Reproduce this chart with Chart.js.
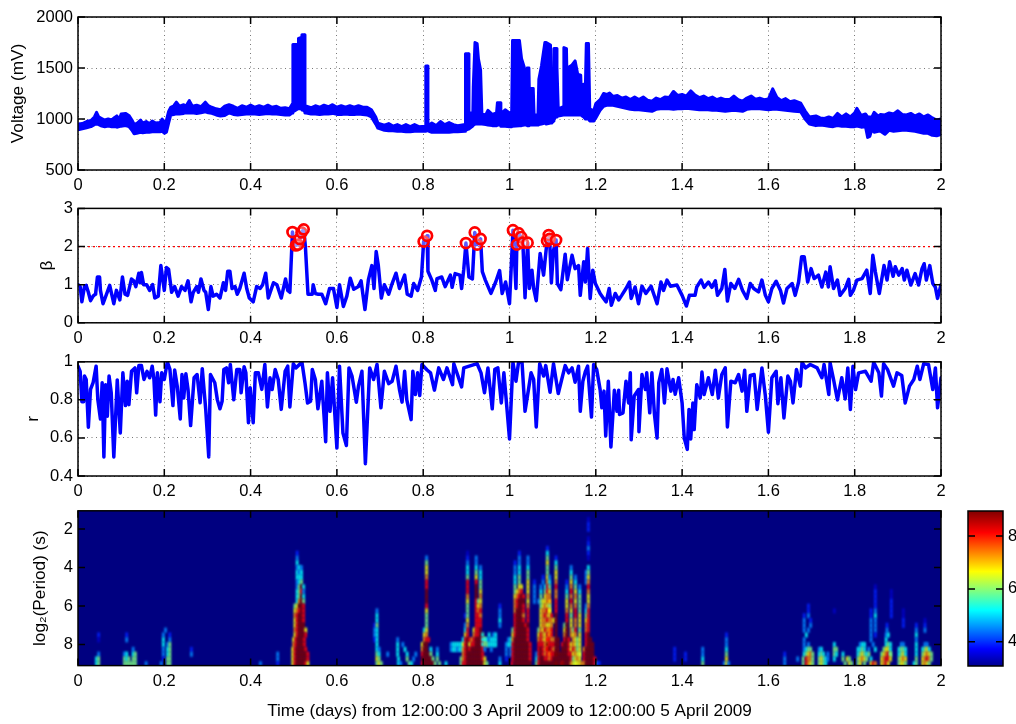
<!DOCTYPE html>
<html lang="en">
<head>
  <meta charset="UTF-8">
  <title>Voltage, beta, r and wavelet power</title>
  <script src="https://cdn.jsdelivr.net/npm/chart.js@4"></script>
  <style>
    html, body { margin: 0; padding: 0; background: #fff; }
    body { position: relative; width: 1016px; height: 724px; overflow: hidden; }
    canvas { position: absolute; left: 0; }
  </style>
</head>
<body>
  <canvas id="voltage"></canvas>
  <canvas id="beta"></canvas>
  <canvas id="r"></canvas>
  <canvas id="wavelet"></canvas>
  <canvas id="colorbar"></canvas>

  <script>
    const timeTicks = [0, 0.2, 0.4, 0.6, 0.8, 1, 1.2, 1.4, 1.6, 1.8, 2];
    const voltageTicks = [500, 1000, 1500, 2000];
    const betaTicks = [0, 1, 2, 3];
    const rTicks = [0.4, 0.6, 0.8, 1];
    const periodTicks = [2, 4, 6, 8];
    const powerTicks = [4, 6, 8];
    const betaThreshold = 2;

    // [time, upper edge, lower edge] of the voltage trace
    const voltageBand = [
      [0,950,895],[.01,955,905],[.02,975,915],[.03,985,925],[.038,1020,945],[.043,1065,950],[.048,1020,945],[.055,1005,930],[.062,990,925],
      [.07,1000,930],[.078,990,925],[.085,1015,925],[.09,1030,920],[.096,1000,925],[.1,1050,930],[.11,1055,935],[.118,1035,925],[.125,990,890],
      [.13,950,855],[.136,955,860],[.145,990,870],[.15,960,865],[.158,975,870],[.165,955,870],[.172,980,875],[.18,960,875],[.19,965,875],
      [.195,1000,880],[.2,960,860],[.205,990,870],[.21,1075,960],[.215,1115,1040],[.222,1130,1045],[.228,1165,1050],[.235,1125,1050],[.245,1140,1055],
      [.25,1125,1060],[.258,1180,1060],[.265,1125,1060],[.275,1135,1055],[.285,1120,1060],[.295,1165,1070],[.302,1130,1060],[.31,1115,1055],[.32,1100,1040],[.33,1090,1030],[.34,1125,1035],
      [.35,1140,1060],[.36,1125,1045],[.37,1105,1040],[.38,1130,1045],[.39,1115,1050],[.4,1135,1050],[.41,1115,1050],[.42,1130,1045],[.43,1115,1050],[.44,1135,1055],[.45,1115,1050],[.46,1125,1050],[.47,1105,1045],[.48,1110,1040],
      [.49,1100,1040],[.497,1150,1060],[.498,1730,1070],[.51,1730,1100],[.511,1790,1100],[.518,1800,1100],[.519,1825,1090],[.525,1825,1080],
      [.526,1130,1060],[.54,1110,1050],[.55,1130,1050],[.56,1115,1045],[.57,1135,1050],[.58,1120,1050],[.59,1140,1055],[.6,1115,1045],[.61,1130,1045],[.62,1115,1050],[.63,1130,1045],[.64,1115,1045],[.65,1130,1050],[.66,1115,1045],[.67,1115,1040],
      [.68,1090,1020],[.69,1020,950],[.695,960,910],[.71,940,890],[.72,955,885],[.73,930,885],[.74,945,880],[.75,925,880],[.76,945,875],[.77,925,875],[.78,945,880],[.79,925,880],
      [.805,930,880],[.806,1520,900],[.81,1520,900],[.811,935,885],[.82,960,870],[.83,935,870],[.84,975,870],[.85,945,870],[.86,965,870],[.87,945,875],[.88,935,875],
      [.897,945,880],[.898,1640,890],[.905,1640,900],[.906,1060,900],[.915,1060,930],[.916,1310,940],[.92,1750,950],[.925,1740,950],
      [.928,1590,950],[.933,1480,950],[.936,1050,950],[.945,1040,945],[.95,1085,940],[.96,1045,935],[.97,1060,935],[.972,1160,940],[.978,1160,940],
      [.98,1050,930],[.99,1090,930],[1,1060,925],[1.005,1050,925],[1.007,1770,930],[1.023,1770,935],[1.028,1590,935],[1.034,1510,940],[1.036,1040,940],
      [1.04,1040,940],[1.041,1500,935],[1.045,1500,935],[1.047,1040,940],[1.049,1300,940],[1.055,1300,940],[1.057,1040,940],[1.066,1040,940],
      [1.068,1390,945],[1.074,1520,950],[1.082,1750,960],[1.085,1750,950],[1.095,1725,960],[1.098,1100,960],[1.102,1100,980],[1.103,1690,1000],
      [1.108,1690,1020],[1.11,1510,1030],[1.113,1100,1030],[1.125,1120,1040],[1.126,1700,1040],[1.132,1690,1040],[1.134,1200,1040],[1.138,1510,1040],
      [1.145,1530,1040],[1.152,1570,1040],[1.158,1440,1040],[1.165,1430,1040],[1.168,1100,1030],[1.172,1340,1020],[1.176,1340,1000],[1.178,1740,1000],
      [1.183,1740,1000],[1.186,1100,980],[1.195,1080,980],[1.2,1150,1010],[1.21,1190,1085],[1.218,1250,1125],[1.225,1240,1135],[1.232,1255,1135],[1.24,1220,1135],[1.25,1230,1125],[1.26,1205,1115],[1.27,1215,1105],
      [1.28,1190,1095],[1.29,1215,1090],[1.3,1190,1090],[1.31,1215,1085],[1.32,1185,1080],[1.33,1175,1075],[1.34,1205,1095],[1.35,1190,1100],[1.36,1215,1100],[1.37,1210,1100],[1.38,1270,1095],[1.39,1230,1100],[1.4,1240,1100],
      [1.41,1225,1105],[1.42,1275,1100],[1.43,1235,1095],[1.44,1210,1090],[1.45,1225,1090],[1.46,1200,1090],[1.47,1215,1085],[1.48,1190,1085],[1.49,1205,1080],[1.5,1190,1075],[1.51,1190,1080],[1.52,1225,1085],[1.53,1190,1080],[1.54,1175,1075],[1.55,1205,1095],[1.56,1225,1100],
      [1.57,1195,1100],[1.58,1205,1100],[1.59,1190,1095],[1.6,1195,1090],[1.61,1295,1095],[1.62,1210,1095],[1.63,1180,1090],[1.64,1200,1085],[1.65,1170,1080],[1.66,1180,1075],[1.675,1155,1070],[1.685,1080,1000],
      [1.695,1020,950],[1.71,1030,935],[1.72,1010,940],[1.73,1005,935],[1.74,1020,930],[1.75,1005,925],[1.76,1055,935],[1.77,1020,930],[1.78,1050,930],[1.79,1020,925],[1.8,1060,925],[1.805,1105,930],
      [1.815,1035,920],[1.825,1050,925],[1.83,1020,820],[1.835,1020,830],[1.84,1020,900],[1.845,1065,870],[1.855,1025,880],[1.86,1045,880],[1.87,1040,850],[1.88,1060,890],[1.89,1050,880],[1.9,1080,885],[1.91,1045,890],
      [1.92,1040,890],[1.93,1055,885],[1.94,1030,880],[1.95,1050,870],[1.96,1020,860],[1.97,1040,860],[1.98,1010,840],[1.99,990,835],[2,1000,850]
    ];

    const betaSeries = [
      [0,1],[.005,.95],[.009,.55],[.015,.95],[.019,.98],[.024,.8],[.029,.58],[.035,.7],[.04,.75],[.041,.78],[.045,1.2],[.05,1.2],
      [.052,.85],[.058,.5],[.0735,.98],[.083,.5],[.089,.85],[.097,.6],[.103,1.2],[.109,.75],[.115,.72],[.124,1.15],[.129,1.1],[.134,.95],
      [.141,1.3],[.144,1.05],[.147,1.32],[.152,1],[.159,1],[.166,.85],[.173,1],[.178,.65],[.186,.7],[.192,1.5],[.2,.85],[.205,1.45],
      [.21,1.4],[.217,.8],[.224,.95],[.232,.7],[.24,.95],[.248,.85],[.255,1.1],[.262,.55],[.267,.8],[.275,.95],[.279,.8],[.285,1.15],
      [.292,.85],[.296,.8],[.302,.35],[.308,.95],[.313,.7],[.321,.75],[.329,.65],[.337,1.05],[.342,.85],[.347,1.35],[.352,1.35],[.357,.9],
      [.364,.95],[.369,.75],[.375,.9],[.385,1.3],[.391,.9],[.397,.65],[.406,.55],[.414,.95],[.422,.9],[.428,1],[.435,1.3],[.441,.65],
      [.453,1.05],[.461,1],[.471,.65],[.481,1.15],[.486,.85],[.491,.8],[.497,2.38],[.5,2.1],[.505,2.03],[.51,2.05],[.514,2.2],[.518,2.37],
      [.523,2.45],[.527,2],[.533,.75],[.543,.75],[.545,1],[.55,.77],[.557,.75],[.565,.75],[.574,.5],[.583,.9],[.592,.9],[.6,.4],
      [.606,1],[.615,.43],[.623,.7],[.631,1.17],[.639,.88],[.65,.95],[.656,1.1],[.665,.35],[.673,1.13],[.681,1.5],[.686,.9],[.691,1.87],
      [.696,1.5],[.703,.65],[.71,1],[.72,.75],[.728,1.03],[.737,1.3],[.745,.9],[.757,1.25],[.763,.75],[.772,.7],[.778,1.03],[.787,.85],
      [.796,1.2],[.801,2.13],[.809,2.28],[.811,1.35],[.82,1.12],[.828,.85],[.832,1.16],[.843,1.2],[.851,.95],[.863,1.25],[.867,.93],[.874,1.29],
      [.885,1.25],[.889,.9],[.894,1.4],[.899,2.09],[.906,1.2],[.914,1.15],[.9195,2.37],[.925,2.05],[.933,2.2],[.937,1.34],[.944,1.12],[.957,.77],
      [.968,1.07],[.977,1.37],[.983,.77],[.991,1.07],[1,.5],[1.008,2.43],[1.015,.9],[1.017,2.05],[1.021,2.35],[1.027,2.25],[1.031,2.1],[1.036,.66],
      [1.042,2.1],[1.046,.9],[1.052,1.38],[1.056,.9],[1.062,.58],[1.071,1.82],[1.079,1.25],[1.087,2.15],[1.091,2.3],[1.093,2.2],[1.097,1.05],[1.102,1.9],
      [1.108,2.17],[1.111,1.03],[1.119,.87],[1.129,1.8],[1.134,1.13],[1.145,1.77],[1.152,1.42],[1.16,1.5],[1.164,.72],[1.172,1.6],[1.176,1.07],[1.181,1.95],
      [1.187,.64],[1.193,1.38],[1.199,1.03],[1.21,.77],[1.218,.64],[1.224,.55],[1.231,.9],[1.236,.46],[1.245,.77],[1.253,.6],[1.26,.72],[1.27,.9],
      [1.278,1.07],[1.282,.64],[1.291,.94],[1.299,.5],[1.307,.96],[1.316,.77],[1.328,.96],[1.342,.5],[1.351,1.07],[1.357,.85],[1.365,1.12],[1.373,.96],
      [1.388,.99],[1.4,.72],[1.41,.44],[1.417,.72],[1.43,.72],[1.434,.94],[1.444,1.12],[1.451,.93],[1.461,1.07],[1.469,.93],[1.477,1.1],[1.482,.72],
      [1.492,.9],[1.499,1.4],[1.505,.57],[1.513,1.03],[1.522,.9],[1.531,1.14],[1.54,.85],[1.55,.64],[1.558,1.03],[1.566,.9],[1.577,.81],[1.585,1.12],
      [1.593,.72],[1.6,.55],[1.608,.9],[1.618,1.09],[1.628,.85],[1.635,.52],[1.643,.9],[1.655,1.03],[1.662,.72],[1.67,1.07],[1.677,1.73],[1.683,1.73],
      [1.691,1.07],[1.699,1.42],[1.706,1.16],[1.716,1.25],[1.724,.94],[1.733,1.33],[1.739,.94],[1.743,1.47],[1.751,.9],[1.76,1.12],[1.766,.72],[1.778,.9],
      [1.786,1.14],[1.79,.72],[1.797,.85],[1.805,1.12],[1.817,1.16],[1.828,1.38],[1.836,.77],[1.842,1.77],[1.848,1.33],[1.857,.77],[1.868,1.5],[1.875,1.12],
      [1.881,1.6],[1.889,1.22],[1.894,1.47],[1.902,1.25],[1.91,1.42],[1.915,1.12],[1.921,1.38],[1.93,.99],[1.94,1.29],[1.948,.99],[1.956,1.42],[1.961,1.55],
      [1.966,1.12],[1.974,1.5],[1.981,1.03],[1.987,.93],[1.992,.64],[2,1]
    ];

    // samples of beta above the threshold, ringed in red
    const betaPeaks = [
      [.497,2.38],[.505,2.03],[.51,2.05],[.514,2.2],[.518,2.37],[.523,2.45],[.801,2.13],[.809,2.28],[.899,2.09],[.9195,2.37],[.925,2.05],[.933,2.2],
      [1.008,2.43],[1.017,2.05],[1.021,2.35],[1.027,2.25],[1.031,2.1],[1.042,2.1],[1.087,2.15],[1.091,2.3],[1.093,2.2],[1.108,2.17]
    ];

    const rSeries = [
      [0,.977],[.005,.95],[.009,.79],[.013,.79],[.015,.925],[.019,.907],[.024,.656],[.029,.855],[.035,.89],[.042,.977],[.046,.8],[.052,.7],
      [.056,.89],[.06,.5],[.064,.88],[.068,.714],[.072,.925],[.077,.837],[.083,.5],[.091,.905],[.098,.626],[.104,.942],[.11,.77],[.114,.898],
      [.118,.775],[.124,.95],[.132,.968],[.136,.837],[.141,.98],[.147,.98],[.153,.907],[.16,.95],[.166,.916],[.172,.977],[.176,.907],[.18,.72],
      [.184,.942],[.19,.79],[.194,.942],[.2,.907],[.207,1],[.213,.96],[.22,.77],[.224,.957],[.23,.872],[.237,.7],[.241,.933],[.245,.81],
      [.25,.937],[.255,.854],[.261,.665],[.269,.916],[.276,.933],[.283,.785],[.288,.964],[.296,.75],[.303,.5],[.307,.933],[.317,.89],[.323,.8],
      [.329,.753],[.334,.793],[.338,.96],[.344,.968],[.349,.89],[.353,.986],[.361,.8],[.368,.96],[.375,.96],[.378,.837],[.385,.974],[.389,.942],
      [.395,.68],[.399,.864],[.406,.68],[.411,.942],[.418,.942],[.426,.855],[.433,.986],[.439,.763],[.445,.916],[.45,.854],[.457,.96],[.464,.907],
      [.471,.75],[.48,.95],[.486,.977],[.491,.763],[.499,.99],[.505,.968],[.519,.998],[.526,.89],[.532,.784],[.539,.793],[.543,.96],[.55,.907],
      [.556,.753],[.565,.898],[.574,.58],[.578,.942],[.584,.74],[.59,.916],[.6,.547],[.606,.977],[.614,.626],[.622,.56],[.628,.968],[.635,.925],
      [.645,.788],[.65,.872],[.658,.95],[.666,.465],[.676,.968],[.685,.907],[.693,.986],[.702,.758],[.71,.95],[.72,.885],[.728,.898],[.737,.977],
      [.745,.854],[.751,.788],[.757,.95],[.762,.8],[.772,.696],[.776,.95],[.782,.828],[.787,.942],[.792,.823],[.797,.986],[.809,.957],[.817,.942],
      [.826,.851],[.836,.968],[.847,.907],[.855,.968],[.868,.88],[.871,.99],[.889,.868],[.894,.968],[.925,.99],[.934,.942],[.942,.837],[.95,.968],
      [.96,.753],[.966,.96],[.973,.968],[.981,.784],[.987,.942],[.992,.81],[1,.595],[1.008,.998],[1.015,.898],[1.021,.998],[1.029,.998],[1.036,.74],
      [1.044,.854],[1.05,.942],[1.056,.907],[1.062,.658],[1.07,.99],[1.079,.925],[1.084,.98],[1.094,.84],[1.102,.99],[1.113,.833],[1.12,.898],[1.129,.98],
      [1.137,.942],[1.145,.968],[1.152,.893],[1.16,.977],[1.164,.74],[1.17,.898],[1.176,.95],[1.181,.977],[1.19,.71],[1.195,.986],[1.202,.96],[1.21,.854],
      [1.214,.758],[1.219,.846],[1.223,.61],[1.229,.898],[1.235,.553],[1.243,.85],[1.249,.74],[1.253,.85],[1.255,.723],[1.263,.732],[1.27,.898],[1.276,.784],
      [1.28,.942],[1.282,.59],[1.289,.82],[1.299,.854],[1.3,.633],[1.307,.933],[1.315,.854],[1.318,.942],[1.325,.732],[1.33,.942],[1.336,.723],[1.342,.6],
      [1.346,.89],[1.353,.96],[1.359,.784],[1.365,.963],[1.374,.846],[1.379,.907],[1.384,.83],[1.392,.916],[1.4,.784],[1.405,.6],[1.412,.54],[1.416,.75],
      [1.42,.595],[1.425,.784],[1.428,.644],[1.434,.88],[1.442,.81],[1.446,.946],[1.451,.828],[1.461,.916],[1.47,.828],[1.477,.956],[1.484,.81],[1.492,.933],
      [1.5,.968],[1.505,.658],[1.513,.898],[1.523,.89],[1.531,.933],[1.539,.846],[1.545,.956],[1.55,.74],[1.558,.928],[1.567,.933],[1.574,.75],[1.585,.968],
      [1.593,.82],[1.6,.63],[1.608,.916],[1.618,.95],[1.622,.78],[1.629,.916],[1.636,.705],[1.645,.925],[1.651,.898],[1.657,.784],[1.665,.96],[1.674,.872],
      [1.678,.998],[1.686,.968],[1.697,.986],[1.713,.968],[1.724,.916],[1.729,.986],[1.74,.828],[1.743,.995],[1.751,.907],[1.76,.8],[1.77,.916],[1.778,.805],
      [1.784,.968],[1.79,.75],[1.796,.977],[1.802,.854],[1.809,.942],[1.825,.95],[1.838,.898],[1.844,.998],[1.856,.942],[1.862,.82],[1.867,.99],[1.876,.96],
      [1.89,.872],[1.898,.942],[1.909,.928],[1.917,.784],[1.927,.872],[1.937,.907],[1.945,.977],[1.951,.907],[1.96,.99],[1.971,.986],[1.981,.854],[1.987,.968],
      [1.992,.758],[2,.916]
    ];

    // wavelet power: [period row, [[start time, one digit per 0.005 day], ...]]
    const heatRows = [
      [1.5,[[1.18,'1']]],
      [1.75,[[1.18,'2']]],
      [2,[[1.18,'2']]],
      [2.5,[[1.18,'1']]],
      [2.75,[[1.18,'2']]],
      [3,[[1.085,'2'],[1.18,'3']]],
      [3.25,[[.505,'2'],[.9,'1'],[1.02,'2'],[1.085,'4'],[1.18,'2']]],
      [3.5,[[.505,'3'],[.805,'3'],[.9,'2'],[.92,'3'],[1.02,'3'],[1.04,'3'],[1.085,'5'],[1.105,'2'],[1.18,'1']]],
      [3.75,[[.505,'4'],[.805,'5'],[.9,'3'],[.92,'3'],[1.01,'2'],[1.02,'3'],[1.04,'3'],[1.085,'6'],[1.105,'4']]],
      [4,[[.505,'343'],[.805,'6'],[.9,'4'],[.92,'4'],[.93,'3'],[1.01,'3'],[1.02,'4'],[1.04,'4'],[1.085,'5'],[1.105,'5'],[1.14,'3'],[1.18,'4']]],
      [4.25,[[.505,'434'],[.805,'6'],[.9,'4'],[.92,'5'],[.93,'4'],[1.01,'3'],[1.02,'4'],[1.04,'5'],[1.085,'5'],[1.105,'6'],[1.14,'4'],[1.175,'3'],[1.18,'5']]],
      [4.5,[[.505,'444'],[.805,'7'],[.9,'5'],[.92,'6'],[.93,'4'],[1.01,'4'],[1.02,'5'],[1.04,'5'],[1.075,'2'],[1.085,'6'],[1.09,'3'],[1.105,'6'],[1.14,'5'],[1.15,'3'],[1.175,'3'],[1.18,'6']]],
      [4.75,[[.505,'345'],[.805,'8'],[.9,'8'],[.92,'8'],[.93,'5'],[1.01,'4'],[1.02,'5'],[1.04,'6'],[1.055,'2'],[1.075,'3'],[1.085,'7'],[1.09,'4'],[1.105,'7'],[1.13,'2'],[1.14,'6'],[1.15,'4'],[1.175,'3'],[1.18,'7']]],
      [5,[[.505,'3594'],[.805,'8'],[.9,'8'],[.92,'9'],[.93,'5'],[1.01,'5'],[1.02,'66'],[1.04,'6'],[1.055,'3'],[1.07,'3'],[1.08,'4'],[1.085,'8'],[1.09,'5'],[1.105,'8'],[1.13,'3'],[1.14,'7'],[1.15,'5'],[1.16,'3'],[1.18,'8'],[1.845,'1']]],
      [5.25,[[.505,'4583'],[.805,'9'],[.9,'8'],[.92,'9'],[.93,'6'],[1.01,'5'],[1.015,'678'],[1.04,'6'],[1.055,'3'],[1.07,'4'],[1.08,'5'],[1.085,'8'],[1.09,'6'],[1.105,'7'],[1.13,'4'],[1.14,'8'],[1.15,'6'],[1.16,'4'],[1.18,'7'],[1.845,'2'],[1.882,'1']]],
      [5.5,[[.505,'4594'],[.805,'9'],[.9,'7'],[.92,'9'],[.93,'7'],[1.01,'6'],[1.015,'7898'],[1.04,'7'],[1.055,'3'],[1.07,'5'],[1.08,'6'],[1.085,'7'],[1.09,'7'],[1.105,'7'],[1.13,'5'],[1.14,'7'],[1.15,'7'],[1.16,'5'],[1.18,'6'],[1.845,'2'],[1.882,'1']]],
      [5.75,[[.505,'4795'],[.805,'9'],[.9,'6'],[.92,'8'],[.925,'56'],[1.01,'7'],[1.015,'8999'],[1.04,'6'],[1.055,'3'],[1.065,'3'],[1.07,'56'],[1.08,'678'],[1.09,'6'],[1.105,'8'],[1.13,'6'],[1.14,'8'],[1.15,'6'],[1.16,'5'],[1.18,'6'],[1.845,'2'],[1.882,'2']]],
      [6,[[.5,'56998'],[.805,'8'],[.9,'5'],[.92,'8'],[.925,'67'],[.975,'2'],[1.01,'7'],[1.015,'8998'],[1.04,'7'],[1.07,'56'],[1.08,'767'],[1.09,'5'],[1.105,'8'],[1.13,'6'],[1.14,'7'],[1.15,'7'],[1.16,'5'],[1.175,'3'],[1.18,'7'],[1.69,'2'],[1.845,'2'],[1.882,'2']]],
      [6.25,[[.5,'67898'],[.69,'3'],[.805,'6'],[.9,'5'],[.92,'8'],[.925,'78'],[.975,'3'],[1.01,'7'],[1.015,'9998'],[1.04,'8'],[1.07,'67'],[1.08,'786'],[1.09,'6'],[1.105,'8'],[1.13,'7'],[1.14,'6'],[1.15,'8'],[1.16,'5'],[1.175,'4'],[1.18,'8'],[1.69,'2'],[1.75,'1'],[1.835,'2'],[1.845,'3'],[1.882,'2'],[1.91,'1']]],
      [6.5,[[.5,'78998'],[.69,'4'],[.805,'5'],[.895,'2'],[.9,'5'],[.92,'8'],[.925,'87'],[.975,'3'],[1.01,'8'],[1.015,'9997'],[1.04,'8'],[1.07,'67'],[1.08,'8768'],[1.105,'9'],[1.13,'8'],[1.14,'5'],[1.15,'8'],[1.16,'6'],[1.175,'5'],[1.18,'8'],[1.68,'2'],[1.69,'3'],[1.835,'2'],[1.845,'4'],[1.882,'2'],[1.91,'1']]],
      [6.75,[[.5,'68998'],[.69,'4'],[.805,'5'],[.9,'6'],[.92,'8'],[.925,'88'],[.975,'4'],[1.01,'8'],[1.015,'9998'],[1.04,'8'],[1.07,'677'],[1.085,'8776'],[1.105,'9'],[1.13,'8'],[1.14,'6'],[1.15,'7'],[1.16,'6'],[1.175,'6'],[1.18,'8'],[1.68,'3'],[1.695,'2'],[1.835,'3'],[1.845,'3'],[1.91,'2'],[1.96,'1']]],
      [7,[[.5,'68999'],[.685,'2'],[.69,'5'],[.805,'5'],[.895,'3'],[.9,'7'],[.92,'8'],[.925,'88'],[.975,'3'],[1.01,'8'],[1.015,'99998'],[1.04,'9'],[1.07,'6776'],[1.09,'67'],[1.105,'9'],[1.125,'5'],[1.13,'9'],[1.14,'6'],[1.15,'7'],[1.16,'6'],[1.175,'7'],[1.18,'8'],[1.68,'3'],[1.695,'3'],[1.835,'3'],[1.845,'3'],[1.872,'2'],[1.91,'2'],[1.94,'2'],[1.96,'2']]],
      [7.25,[[.2,'3'],[.5,'789996'],[.685,'3'],[.69,'4'],[.8,'4'],[.805,'6'],[.895,'4'],[.9,'8'],[.915,'6889'],[1.005,'5'],[1.01,'8999998'],[1.065,'5'],[1.07,'76877'],[1.09,'78'],[1.105,'9'],[1.125,'6'],[1.13,'9'],[1.14,'7'],[1.145,'5'],[1.15,'8'],[1.16,'5'],[1.175,'7'],[1.18,'8'],[1.68,'3'],[1.69,'3'],[1.835,'3'],[1.845,'3'],[1.872,'3'],[1.94,'3'],[1.96,'3']]],
      [7.5,[[.045,'2'],[.11,'2'],[.195,'3'],[.21,'2'],[.5,'689998'],[.685,'3'],[.69,'4'],[.8,'6'],[.805,'7'],[.895,'6'],[.9,'8'],[.915,'78899'],[.935,'4'],[.95,'4'],[.96,'34'],[1.005,'6'],[1.01,'8999998'],[1.065,'6'],[1.07,'87687'],[1.09,'78'],[1.105,'9'],[1.125,'7'],[1.13,'9'],[1.14,'7'],[1.145,'6'],[1.15,'7'],[1.16,'6'],[1.175,'8'],[1.18,'9'],[1.5,'2'],[1.685,'4'],[1.835,'3'],[1.845,'2'],[1.87,'34'],[1.94,'4']]],
      [7.75,[[.045,'1'],[.11,'3'],[.195,'4'],[.21,'3'],[.497,'689998'],[.685,'2'],[.69,'4'],[.738,'3'],[.8,'7'],[.805,'88'],[.89,'4'],[.895,'8'],[.9,'98'],[.91,'7899986'],[.935,'44'],[.945,'434'],[.96,'44'],[.995,'3'],[1,'4'],[1.005,'7'],[1.01,'9999998'],[1.065,'7'],[1.07,'8767'],[1.085,'887'],[1.1,'7'],[1.105,'99'],[1.125,'8'],[1.13,'9'],[1.135,'8'],[1.145,'7'],[1.15,'65'],[1.16,'6'],[1.175,'8'],[1.18,'99'],[1.5,'3'],[1.68,'3'],[1.835,'3'],[1.87,'4'],[1.94,'3']]],
      [8,[[.195,'4'],[.205,'3'],[.21,'5'],[.497,'789998'],[.69,'4'],[.738,'4'],[.75,'3'],[.795,'6'],[.8,'99'],[.862,'344444'],[.89,'6'],[.895,'89'],[.905,'6'],[.91,'889998'],[.935,'4554'],[.955,'44'],[.965,'4'],[.99,'34'],[1,'4'],[1.005,'8'],[1.01,'99999998'],[1.065,'8'],[1.07,'8877'],[1.085,'988'],[1.1,'8'],[1.105,'99'],[1.12,'8'],[1.125,'99'],[1.135,'86'],[1.145,'76'],[1.155,'5'],[1.16,'6'],[1.175,'8'],[1.18,'999'],[1.5,'3'],[1.68,'3'],[1.69,'3'],[1.75,'4'],[1.81,'344'],[1.84,'3'],[1.87,'454'],[1.905,'33'],[1.94,'4'],[1.96,'33']]],
      [8.25,[[.125,'3'],[.195,'3'],[.205,'4'],[.21,'5'],[.26,'2'],[.495,'6899998'],[.69,'4'],[.695,'3'],[.738,'4'],[.755,'4'],[.795,'7'],[.8,'99'],[.815,'4'],[.83,'3'],[.862,'344344'],[.89,'7'],[.895,'898'],[.91,'999998'],[.94,'3'],[.955,'3'],[.99,'3'],[1,'3'],[1.005,'8'],[1.01,'99999998'],[1.065,'8'],[1.07,'9878'],[1.085,'8987'],[1.105,'99'],[1.12,'9'],[1.125,'998'],[1.14,'6'],[1.145,'875'],[1.16,'6'],[1.17,'7'],[1.175,'9'],[1.18,'999'],[1.38,'2'],[1.445,'3'],[1.5,'4'],[1.68,'3455'],[1.715,'34'],[1.75,'55'],[1.805,'4454'],[1.83,'3'],[1.845,'4'],[1.865,'5664'],[1.9,'4554'],[1.94,'4'],[1.955,'4564']]],
      [8.5,[[.045,'3'],[.105,'34'],[.125,'45'],[.195,'3'],[.205,'45'],[.26,'3'],[.46,'3'],[.495,'68999998'],[.69,'5'],[.695,'4'],[.715,'3'],[.738,'4'],[.76,'4'],[.78,'3'],[.795,'8'],[.8,'999'],[.815,'5'],[.83,'4'],[.89,'7'],[.895,'899'],[.91,'999998'],[.99,'3'],[1,'3'],[1.005,'8'],[1.01,'99999998'],[1.06,'3'],[1.065,'8'],[1.07,'98788'],[1.09,'7889'],[1.105,'999'],[1.12,'9'],[1.125,'9988'],[1.145,'6765'],[1.16,'6'],[1.17,'8'],[1.175,'9'],[1.18,'999'],[1.38,'2'],[1.405,'2'],[1.445,'3'],[1.5,'5'],[1.635,'2'],[1.68,'45675'],[1.715,'45'],[1.725,'4'],[1.735,'3'],[1.75,'54'],[1.77,'4'],[1.805,'45654'],[1.83,'5'],[1.86,'56785'],[1.88,'5'],[1.9,'4564'],[1.94,'4'],[1.955,'56765']]],
      [8.75,[[.04,'4'],[.045,'5'],[.105,'545'],[.125,'55'],[.195,'2'],[.205,'55'],[.46,'3'],[.495,'68999998'],[.69,'6'],[.695,'5'],[.74,'4'],[.76,'5'],[.775,'3'],[.795,'9'],[.8,'9999'],[.82,'5'],[.83,'5'],[.885,'5'],[.89,'7'],[.895,'899'],[.91,'9999986'],[.975,'3'],[.99,'2'],[1.005,'8'],[1.01,'99999998'],[1.06,'4'],[1.065,'8'],[1.07,'9988789'],[1.105,'999'],[1.12,'9'],[1.125,'99985'],[1.15,'6'],[1.155,'76'],[1.17,'8'],[1.175,'9'],[1.18,'9998'],[1.38,'2'],[1.405,'2'],[1.445,'4'],[1.5,'6'],[1.635,'3'],[1.665,'3'],[1.678,'5'],[1.685,'8775'],[1.715,'5654'],[1.735,'3'],[1.75,'4'],[1.77,'5'],[1.78,'65'],[1.805,'5676'],[1.825,'5'],[1.835,'4'],[1.86,'6788'],[1.88,'6'],[1.9,'5676'],[1.94,'5'],[1.955,'67875']]],
      [9,[[.04,'45'],[.105,'5555'],[.125,'55'],[.155,'3'],[.19,'3'],[.205,'55'],[.42,'3'],[.46,'2'],[.495,'68999986'],[.69,'5'],[.695,'65'],[.74,'4'],[.745,'3'],[.765,'5'],[.77,'4'],[.795,'89'],[.805,'9999'],[.825,'5'],[.835,'5'],[.85,'4'],[.885,'5'],[.89,'8'],[.895,'899'],[.91,'9999996'],[.945,'5'],[.975,'4'],[1.003,'8'],[1.01,'99999999'],[1.06,'5'],[1.065,'89'],[1.075,'9999999'],[1.105,'9998'],[1.12,'9'],[1.125,'999765'],[1.15,'666'],[1.165,'77'],[1.175,'9'],[1.18,'9998'],[1.2,'3'],[1.205,'2'],[1.445,'5'],[1.495,'3'],[1.5,'6'],[1.505,'3'],[1.635,'3'],[1.678,'5'],[1.685,'8765'],[1.715,'565'],[1.73,'4'],[1.775,'5'],[1.785,'65'],[1.805,'56'],[1.82,'5'],[1.835,'6'],[1.84,'87'],[1.86,'6786'],[1.9,'5665'],[1.935,'45'],[1.955,'6765']]]
    ];
    const heatStep = 0.005;
    const heatRowStep = 0.25;
    const heatLevels = [3.08, 3.5, 4, 4.6, 5.3, 6, 6.75, 7.4, 8.2, 8.95];

    const jetStops = [
      [0, '#00008f'], [0.11, '#0000ff'], [0.36, '#00ffff'], [0.61, '#ffff00'], [0.86, '#ff0000'], [1, '#800000']
    ];

    const blue = '#0000ff';
    const family = '"Liberation Sans", Arial, sans-serif';
    const font = { family, size: 16.5 };
    const titleFont = { family, size: 17.2 };
    const plotLeft = 78;
    const plotRight = 941;

    function jet(v) {
      const f = (v - 3.08) / (8.95 - 3.08);
      const band = (c) => Math.max(0, Math.min(1, 1.5 - Math.abs(4 * f - c)));
      return `rgb(${Math.round(band(3) * 255)},${Math.round(band(2) * 255)},${Math.round(band(1) * 255)})`;
    }

    // MATLAB style box with the ticks pointing inwards on all four sides
    const frame = {
      id: 'frame',
      afterDraw(chart) {
        const { ctx, chartArea: a, scales } = chart;
        ctx.save();
        ctx.strokeStyle = '#000';
        ctx.lineWidth = 1.5;
        ctx.beginPath();
        if (scales.x.options.display) {
          scales.x.ticks.forEach((t) => {
            const x = scales.x.getPixelForValue(t.value);
            ctx.moveTo(x, a.top); ctx.lineTo(x, a.top + 7);
            ctx.moveTo(x, a.bottom); ctx.lineTo(x, a.bottom - 7);
          });
        }
        scales.y.ticks.forEach((t) => {
          const y = scales.y.getPixelForValue(t.value);
          ctx.moveTo(a.left, y); ctx.lineTo(a.left + 7, y);
          ctx.moveTo(a.right, y); ctx.lineTo(a.right - 7, y);
        });
        ctx.stroke();
        ctx.strokeRect(a.left, a.top, a.right - a.left, a.bottom - a.top);
        ctx.restore();
      }
    };

    // wavelet cells, read from the first dataset and placed by the scales
    const heatmap = {
      id: 'heatmap',
      beforeDatasetsDraw(chart) {
        const { ctx, chartArea: a, scales } = chart;
        ctx.save();
        ctx.beginPath();
        ctx.rect(a.left, a.top, a.right - a.left, a.bottom - a.top);
        ctx.clip();
        ctx.fillStyle = jet(3.08);
        ctx.fillRect(a.left, a.top, a.right - a.left, a.bottom - a.top);
        ctx.filter = 'blur(1.1px)';
        chart.data.datasets[0].data.forEach((c) => {
          const x0 = scales.x.getPixelForValue(c.x);
          const x1 = scales.x.getPixelForValue(c.x + heatStep);
          const y0 = scales.y.getPixelForValue(c.y - heatRowStep / 2);
          const y1 = scales.y.getPixelForValue(c.y + heatRowStep / 2);
          ctx.fillStyle = jet(c.v);
          ctx.fillRect(x0, y0, x1 - x0 + 0.3, y1 - y0 + 0.3);
        });
        ctx.restore();
      }
    };

    const gradientBar = {
      id: 'gradientBar',
      beforeDatasetsDraw(chart) {
        const { ctx, chartArea: a } = chart;
        const g = ctx.createLinearGradient(0, a.bottom, 0, a.top);
        jetStops.forEach((s) => g.addColorStop(s[0], s[1]));
        ctx.fillStyle = g;
        ctx.fillRect(a.left, a.top, a.right - a.left, a.bottom - a.top);
      }
    };

    const tickLabel = (v) => String(+Number(v).toFixed(1));
    const useTicks = (list) => (scale) => { scale.ticks = list.map((value) => ({ value })); };

    function panel(id, top, bottom, opts) {
      const canvas = document.getElementById(id);
      const canvasTop = Math.floor(top - 20);
      const pad = top - canvasTop;
      const canvasHeight = Math.ceil(bottom + (opts.below || 32) - canvasTop);
      const below = canvasHeight - (bottom - canvasTop);
      canvas.style.top = canvasTop + 'px';
      canvas.width = 1016;
      canvas.height = canvasHeight;
      return new Chart(canvas, {
        type: 'scatter',
        data: { datasets: opts.datasets },
        plugins: opts.plugins || [frame],
        options: {
          responsive: false,
          animation: false,
          layout: { padding: { top: pad, right: 1016 - plotRight, left: 0, bottom: 0 } },
          plugins: { legend: { display: false }, tooltip: { enabled: false } },
          scales: {
            x: {
              type: 'linear',
              min: 0,
              max: 2,
              afterBuildTicks: useTicks(timeTicks),
              afterFit: (s) => { s.height = below; },
              grid: { display: opts.grid !== false, color: '#777', lineWidth: 1, drawTicks: false },
              border: { display: false, dash: [1, 3.5] },
              ticks: { color: '#000', font, padding: 6, maxRotation: 0, autoSkip: false, callback: tickLabel },
              title: opts.xTitle ? { display: true, text: opts.xTitle, color: '#000', font: titleFont, padding: { top: 0, bottom: 2 } } : { display: false }
            },
            y: {
              type: 'linear',
              min: opts.yMin,
              max: opts.yMax,
              reverse: !!opts.reverse,
              afterBuildTicks: useTicks(opts.yTicks),
              afterFit: (s) => { s.width = plotLeft; },
              grid: { display: opts.grid !== false, color: '#777', lineWidth: 1, drawTicks: false },
              border: { display: false, dash: [1, 3.5] },
              ticks: { color: '#000', font, padding: 5, autoSkip: false, callback: tickLabel },
              title: { display: true, text: opts.yTitle, color: '#000', font: titleFont, padding: { top: opts.yTitlePad, bottom: 0 } }
            }
          }
        }
      });
    }

    const traceStyle = {
      showLine: true, borderColor: blue, backgroundColor: blue, pointRadius: 0, tension: 0,
      borderJoinStyle: 'round', borderCapStyle: 'round'
    };

    panel('voltage', 17, 170, {
      yMin: 500, yMax: 2000, yTicks: voltageTicks, yTitle: 'Voltage (mV)', yTitlePad: 7.6,
      datasets: [
        { ...traceStyle, borderWidth: 3, fill: '+1', data: voltageBand.map((p) => ({ x: p[0], y: p[1] })) },
        { ...traceStyle, borderWidth: 3, data: voltageBand.map((p) => ({ x: p[0], y: p[2] })) }
      ]
    });

    panel('beta', 208.4, 322.8, {
      yMin: 0, yMax: 3, yTicks: betaTicks, yTitle: 'β', yTitlePad: 36.6,
      datasets: [
        { ...traceStyle, borderWidth: 3.5, order: 2, data: betaSeries.map((p) => ({ x: p[0], y: p[1] })) },
        { showLine: true, borderColor: '#ff0000', borderWidth: 1.3, borderDash: [2, 3], pointRadius: 0, order: 1, data: [{ x: 0, y: betaThreshold }, { x: 2, y: betaThreshold }] },
        { showLine: false, pointStyle: 'circle', pointRadius: 5, pointBorderWidth: 2.7, pointBorderColor: '#ff0000', pointBackgroundColor: 'rgba(255,255,255,0.35)', order: 0, data: betaPeaks.map((p) => ({ x: p[0], y: p[1] })) }
      ]
    });

    panel('r', 361.8, 476, {
      yMin: 0.4, yMax: 1, yTicks: rTicks, yTitle: 'r', yTitlePad: 22.6,
      datasets: [{ ...traceStyle, borderWidth: 3.5, data: rSeries.map((p) => ({ x: p[0], y: p[1] })) }]
    });

    const heatCells = [];
    heatRows.forEach((row) => {
      row[1].forEach((seg) => {
        [...seg[1]].forEach((d, i) => {
          heatCells.push({ x: seg[0] + i * heatStep, y: row[0], v: heatLevels[+d] });
        });
      });
    });

    panel('wavelet', 510.8, 665.6, {
      yMin: 1.05, yMax: 9.1, reverse: true, yTicks: periodTicks, yTitle: 'log₂(Period) (s)', yTitlePad: 29.6, grid: false, below: 58,
      xTitle: 'Time (days) from 12:00:00 3 April 2009 to 12:00:00 5 April 2009',
      plugins: [heatmap, frame],
      datasets: [{ pointRadius: 0, data: heatCells }]
    });

    // colorbar next to the wavelet panel
    const barCanvas = document.getElementById('colorbar');
    barCanvas.style.left = '958px';
    barCanvas.style.top = '491px';
    barCanvas.width = 58;
    barCanvas.height = 195;
    new Chart(barCanvas, {
      type: 'scatter',
      data: { datasets: [{ pointRadius: 0, data: [] }] },
      plugins: [gradientBar, frame],
      options: {
        responsive: false,
        animation: false,
        layout: { padding: { top: 20, bottom: 20, left: 10, right: 0 } },
        plugins: { legend: { display: false }, tooltip: { enabled: false } },
        scales: {
          x: { display: false, min: 0, max: 1 },
          y: {
            position: 'right',
            min: 3.08,
            max: 8.95,
            afterBuildTicks: useTicks(powerTicks),
            afterFit: (s) => { s.width = 13; },
            grid: { display: false, drawTicks: false },
            border: { display: false },
            ticks: { color: '#000', font, padding: 5, autoSkip: false, callback: tickLabel }
          }
        }
      }
    });
  </script>
</body>
</html>
